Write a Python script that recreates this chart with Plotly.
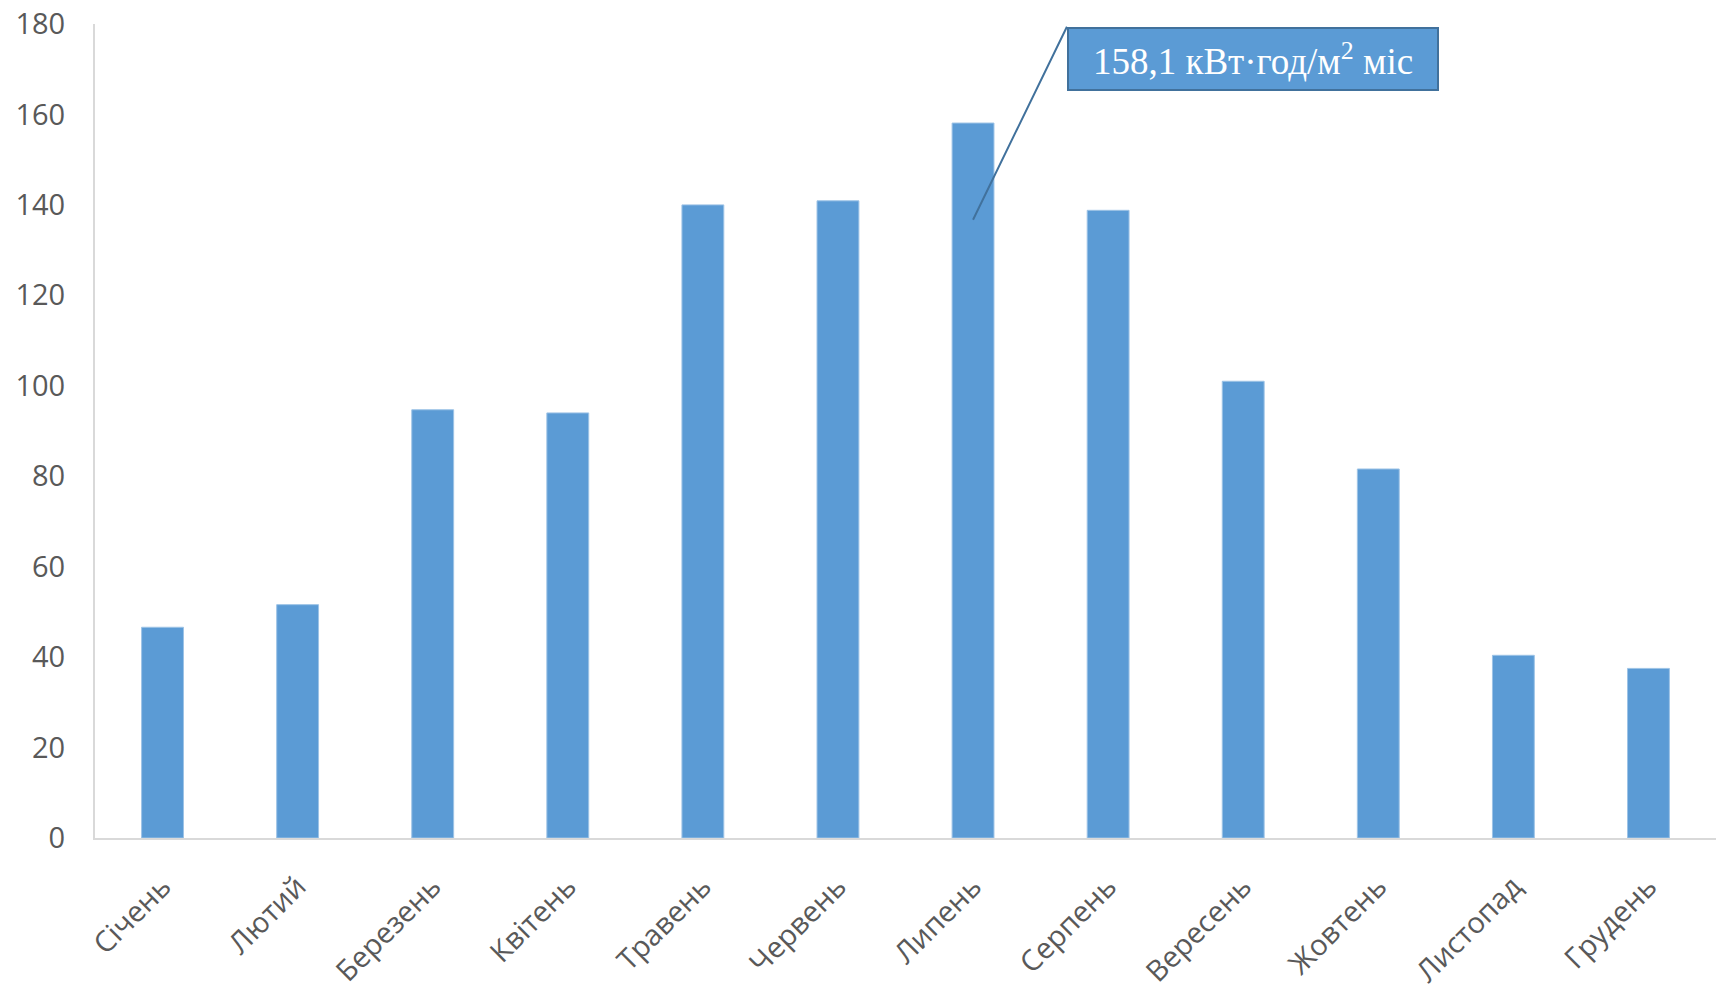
import plotly.graph_objects as go

# Monthly solar irradiation, kWh/m² per month
months = ["Січень", "Лютий", "Березень", "Квітень", "Травень", "Червень",
          "Липень", "Серпень", "Вересень", "Жовтень", "Листопад", "Грудень"]
irradiation = [46.6, 51.6, 94.7, 94.0, 140.0, 140.9, 158.1, 138.8, 101.0, 81.6, 40.4, 37.5]

peak_label = "158,1 кВт·год/м<sup>2</sup> міс"
y_ticks = [0, 20, 40, 60, 80, 100, 120, 140, 160, 180]

bar_color = "#5B9BD5"
axis_gray = "#D9D9D9"
text_gray = "#595959"

fig = go.Figure(
    go.Bar(
        x=months,
        y=irradiation,
        marker=dict(color=bar_color, line=dict(color="#9DC3E6", width=1)),
        hoverinfo="x+y",
    )
)

# Callout for the July peak: leader line from inside the bar to the label box corner
peak_idx = irradiation.index(max(irradiation))
fig.add_annotation(
    x=peak_idx, y=136.7, xref="x", yref="y",
    ax=peak_idx + 0.695, ay=179.4, axref="x", ayref="y",
    showarrow=True, arrowhead=0, arrowwidth=2, arrowcolor="#41719C",
    text=peak_label,
    xanchor="left", yanchor="top",
    font=dict(family="Liberation Serif, Times New Roman, serif", size=37, color="white"),
    bgcolor=bar_color, bordercolor="#41719C", borderwidth=2,
    width=366, height=58, align="center", valign="middle",
)

fig.update_layout(
    width=1719, height=986,
    margin=dict(l=95, r=3, t=24, b=148),
    paper_bgcolor="white", plot_bgcolor="white",
    bargap=0.69,
    showlegend=False,
    font=dict(family="Open Sans, sans-serif", color=text_gray),
)
fig.update_xaxes(
    type="category",
    tickangle=-45,
    tickfont=dict(size=29, color=text_gray),
    showline=True, linecolor=axis_gray, linewidth=2,
    ticks="outside", ticklen=18, tickcolor="rgba(0,0,0,0)",
    showgrid=False, automargin=False,
)
fig.update_yaxes(
    range=[0, 180],
    tickvals=y_ticks,
    tickfont=dict(size=29, color=text_gray),
    showline=True, linecolor=axis_gray, linewidth=2,
    ticks="outside", ticklen=22, tickcolor="rgba(0,0,0,0)",
    showgrid=False, zeroline=False, automargin=False,
)

fig.write_html("out.html")
